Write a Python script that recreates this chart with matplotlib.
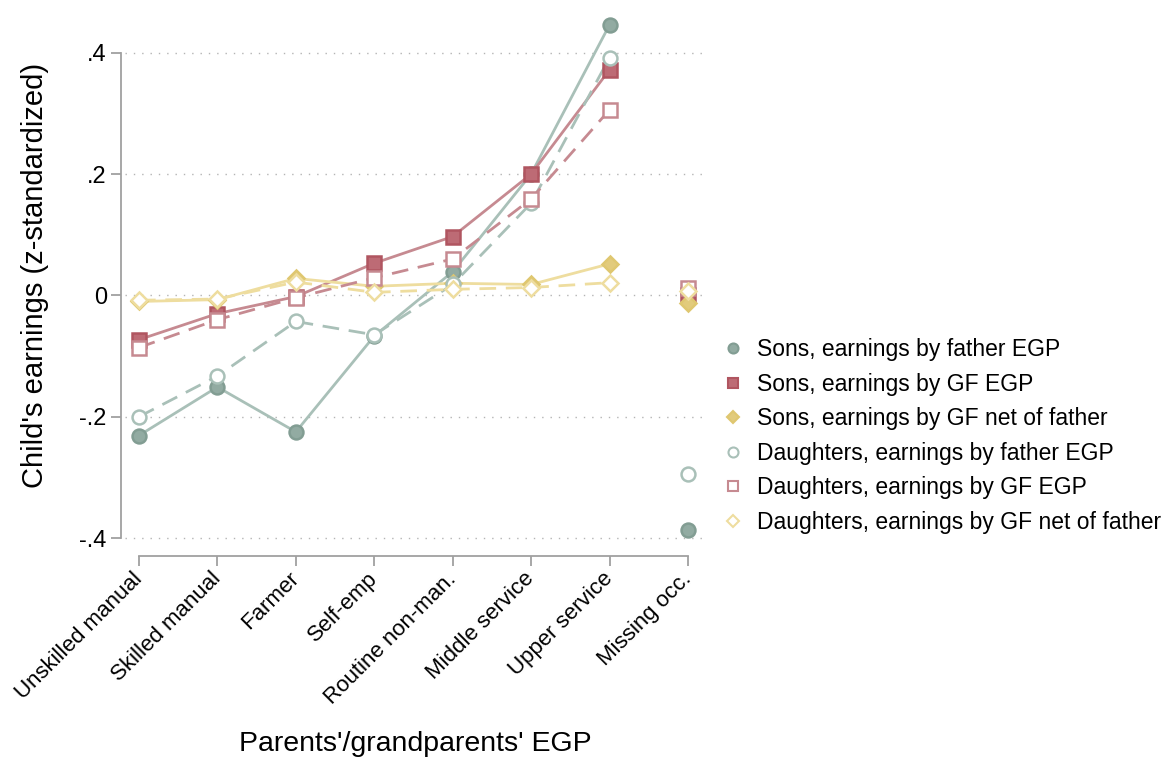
import matplotlib
matplotlib.use("Agg")
import matplotlib.pyplot as plt
from matplotlib.lines import Line2D
import numpy as np

plt.rcParams['font.family'] = ['Liberation Sans', 'DejaVu Sans']

categories = ["Unskilled manual", "Skilled manual", "Farmer", "Self-emp",
              "Routine non-man.", "Middle service", "Upper service", "Missing occ."]

sons_father = [-0.231, -0.151, -0.225, -0.067, 0.039, 0.200, 0.446, -0.387]
sons_gf = [-0.073, -0.030, -0.002, 0.053, 0.097, 0.200, 0.372, 0.000]
sons_gf_net = [-0.010, -0.007, 0.028, 0.015, 0.020, 0.018, 0.052, -0.013]
daughters_father = [-0.200, -0.133, -0.043, -0.065, 0.018, 0.152, 0.392, -0.294]
daughters_gf = [-0.086, -0.040, -0.004, 0.029, 0.060, 0.159, 0.306, 0.013]
daughters_gf_net = [-0.008, -0.006, 0.022, 0.005, 0.010, 0.013, 0.021, 0.007]

labels = ["Sons, earnings by father EGP", "Sons, earnings by GF EGP",
          "Sons, earnings by GF net of father", "Daughters, earnings by father EGP",
          "Daughters, earnings by GF EGP", "Daughters, earnings by GF net of father"]

yticks = [-0.4, -0.2, 0.0, 0.2, 0.4]
yticklabels = ["-.4", "-.2", "0", ".2", ".4"]

green = dict(line="#a9c0b8", face="#92aba2", edge="#829d93")
red = dict(line="#c68a91", face="#bd6b75", edge="#b05560")
yellow = dict(line="#eedd9f", face="#e2cb7c", edge="#dfc770")

dash = (0, (6, 3.5))
series = [
    (sons_father, green, "o", True, "-", 10),
    (sons_gf, red, "s", True, "-", 9.5),
    (sons_gf_net, yellow, "D", True, "-", 8.5),
    (daughters_father, green, "o", False, dash, 10),
    (daughters_gf, red, "s", False, dash, 9.5),
    (daughters_gf_net, yellow, "D", False, dash, 8.5),
]

fig = plt.figure(figsize=(11.69, 7.59), dpi=100)
ax = fig.add_axes([125 / 1169, 1 - 550 / 759, 580 / 1169, 543 / 759])

x = np.arange(len(categories))
n_conn = 7  # the last category is shown without a connecting line

for y in yticks:
    ax.axhline(y, color="#b4b4b4", lw=1.0, ls=(0, (1, 5)), zorder=0)

handles = []
for vals, col, mk, filled, ls, ms in series:
    vals = np.asarray(vals)
    ax.plot(x[:n_conn], vals[:n_conn], color=col["line"], lw=2.0, ls=ls, zorder=2)
    face = col["face"] if filled else "white"
    edge = col["edge"] if filled else col["line"]
    ax.plot(x, vals, ls="none", marker=mk, ms=ms, mfc=face, mec=edge, mew=1.8, zorder=3)
    handles.append(Line2D([], [], ls="none", marker=mk, ms=ms * 0.72, mfc=face,
                          mec=edge, mew=1.5))

ax.set_xlim(-0.178, 7.217)
ax.set_ylim(-0.4197, 0.4754)

for s in ["top", "right"]:
    ax.spines[s].set_visible(False)
ax.spines["left"].set_position(("outward", 2.9))
ax.spines["bottom"].set_position(("outward", 4.3))
ax.spines["left"].set_bounds(-0.4, 0.4)
ax.spines["bottom"].set_bounds(0, 7)
for s in ["left", "bottom"]:
    ax.spines[s].set_color("#a0a0a0")
    ax.spines[s].set_linewidth(1.3)

ax.set_yticks(yticks)
ax.set_yticklabels(yticklabels, fontsize=17)
ax.set_xticks(x)
ax.set_xticklabels(categories, rotation=45, ha="right", va="center",
                   rotation_mode="anchor", fontsize=16)
ax.tick_params(axis="both", color="#a0a0a0", width=1.3, length=7.2, pad=3)
ax.tick_params(axis="x", pad=7)

ax.set_ylabel("Child's earnings (z-standardized)", fontsize=21)
ax.yaxis.set_label_coords(-0.131, 0.506)
fig.text(415 / 1169, 1 - 744 / 759, "Parents'/grandparents' EGP", fontsize=20.5,
         ha="center", va="center")

fig.legend(handles, labels, loc="center left", bbox_to_anchor=(0.5995, 0.4256),
           frameon=False, fontsize=16.5, handlelength=1.0, handletextpad=0.55,
           labelspacing=0.5)

fig.savefig("out.png", dpi=100)
